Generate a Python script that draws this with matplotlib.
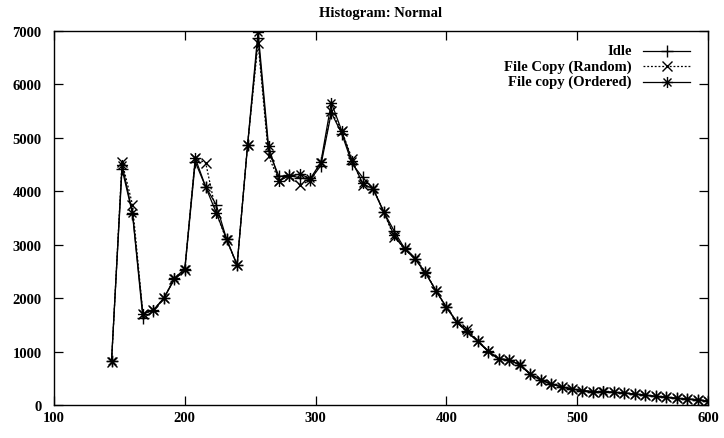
import numpy as np
import matplotlib
matplotlib.use("Agg")
import matplotlib.pyplot as plt
from matplotlib.path import Path
from matplotlib.lines import Line2D

x_vals = list(range(144, 601, 8))

idle = [830, 4420, 3580, 1620, 1760, 2000, 2350, 2520, 4550, 4080,
        3750, 3100, 2620, 4860, 6870, 4760, 4280, 4300, 4250, 4220,
        4480, 5470, 5080, 4510, 4260, 4050, 3620, 3260, 2930, 2730,
        2480, 2140, 1830, 1560, 1380, 1190, 1000, 860, 850, 750,
        580, 470, 400, 340, 300, 270, 250, 250, 235, 225,
        205, 185, 160, 145, 125, 110, 100, 70]
random_copy = [800, 4550, 3750, 1700, 1780, 2000, 2360, 2530, 4620, 4530,
               3600, 3080, 2620, 4870, 6780, 4660, 4200, 4290, 4120, 4200,
               4530, 5500, 5130, 4600, 4110, 4060, 3620, 3140, 2930, 2750,
               2490, 2140, 1820, 1560, 1420, 1190, 1005, 860, 850, 760,
               580, 470, 390, 340, 300, 265, 250, 250, 240, 225,
               205, 185, 160, 145, 125, 110, 100, 70]
ordered_copy = [830, 4500, 3600, 1700, 1780, 2000, 2370, 2550, 4620, 4080,
                3600, 3100, 2620, 4870, 6990, 4850, 4200, 4290, 4320, 4240,
                4540, 5660, 5130, 4560, 4150, 4040, 3620, 3180, 2920, 2740,
                2470, 2140, 1830, 1550, 1360, 1190, 1010, 860, 840, 750,
                580, 470, 390, 340, 300, 270, 250, 255, 235, 225,
                205, 185, 160, 145, 125, 110, 100, 70]

labels = ["Idle", "File Copy (Random)", "File copy (Ordered)"]
title = "Histogram: Normal"
x_ticks = [100, 200, 300, 400, 500, 600]
y_ticks = [0, 1000, 2000, 3000, 4000, 5000, 6000, 7000]

# gnuplot-style star: + overlaid with x
star_verts = [(-1, 0), (1, 0), (0, -1), (0, 1),
              (-0.72, -0.72), (0.72, 0.72), (-0.72, 0.72), (0.72, -0.72)]
star_codes = [Path.MOVETO, Path.LINETO] * 4
star = Path(star_verts, star_codes)

plt.rcParams['font.family'] = ['Liberation Serif', 'DejaVu Serif']

W, H = 724, 439
L, R, T, B = 54, 708, 32, 406
fig = plt.figure(figsize=(W/100, H/100), dpi=100)
ax = fig.add_axes([L/W, 1-B/H, (R-L)/W, (B-T)/H])

lw = 0.9
styles = [
    dict(ls='-', marker='+', ms=8),
    dict(ls=(0, (1.5, 1.5)), marker='x', ms=7),
    dict(ls='-', marker=star, ms=8),
]
series = [idle, random_copy, ordered_copy]
for ys, st, lab in zip(series, styles, labels):
    ax.plot(x_vals, ys, color='black', lw=lw, mew=1.0, label=lab, **st)

ax.set_xlim(100, 600)
ax.set_ylim(0, 7000)
ax.set_xticks(x_ticks)
ax.set_yticks(y_ticks)
ax.tick_params(direction='in', length=6.5, width=0.9, top=True, right=True,
               labelsize=10.5)
ax.tick_params(axis='y', pad=9)
ax.tick_params(axis='x', pad=4)
for lab in ax.get_xticklabels() + ax.get_yticklabels():
    lab.set_fontweight('bold')
for sp in ax.spines.values():
    sp.set_linewidth(1.0)

ax.set_title(title, fontsize=10.5, fontweight='bold', pad=11)

# gnuplot-style key: right-aligned text, sample to the right
def fx(px):
    return (px - L) / (R - L)

def fy(py):
    return (B - py) / (B - T)

rows_py = [51.5, 67.0, 82.5]
for py, st, lab in zip(rows_py, styles, labels):
    ax.text(fx(632), fy(py), lab, transform=ax.transAxes, ha='right',
            va='center', fontsize=10.5, fontweight='bold')
    ax.add_line(Line2D([fx(643), fx(690)], [fy(py), fy(py)],
                       transform=ax.transAxes, color='black', lw=lw,
                       ls=st['ls']))
    ax.add_line(Line2D([fx(666.5)], [fy(py)], transform=ax.transAxes,
                       color='black', ls='none', marker=st['marker'],
                       ms=st['ms'], mew=1.0))

fig.savefig("out.png", dpi=100)
